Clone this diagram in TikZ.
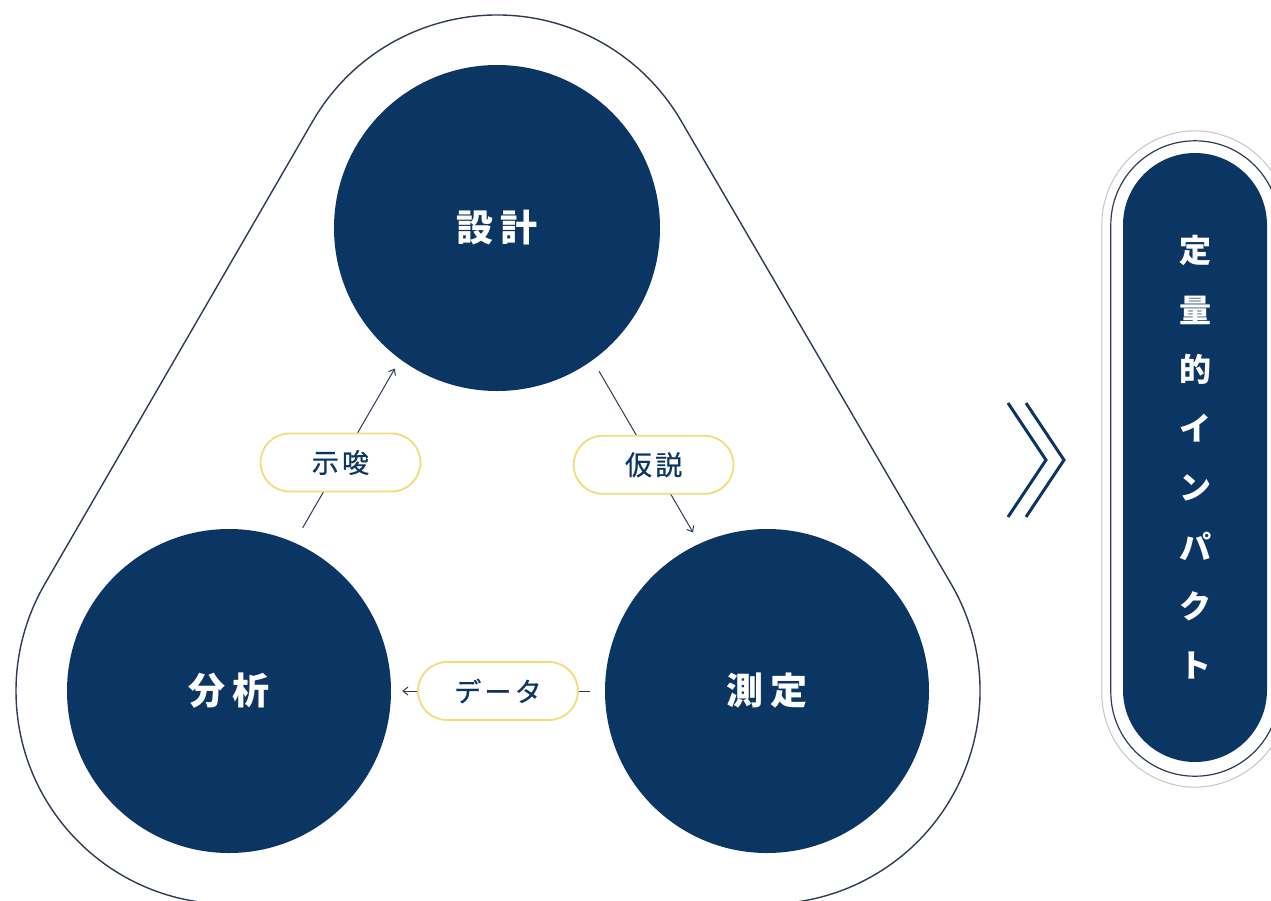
\documentclass[tikz,border=0pt]{standalone}
\usepackage{fontspec}
\setmainfont{Noto Sans CJK JP}
\newfontfamily\tagfont[LetterSpace=12,FakeBold=0.6]{Noto Sans CJK JP}
\usepackage{tikz}
\usetikzlibrary{arrows.meta,calc,positioning}
\definecolor{navy}{HTML}{0B3663}
\definecolor{gold}{HTML}{F2DC7C}
\definecolor{rim}{HTML}{2E3B52}
\tikzset{
    x=1pt, y=1pt,
    stage/.style ={circle, fill=navy, minimum size=326pt, inner sep=0pt, text=white, font=\fontsize{37}{40}\selectfont\bfseries},
    tag/.style = {rectangle, rounded corners=29pt, draw=gold, line width=1.8pt, fill=white, minimum width=160pt, minimum height=58pt, inner sep=0pt, text=navy, font=\fontsize{27}{30}\tagfont},
    flow/.style = {-{Straight Barb[length=5pt,width=8pt]}, draw=rim, line width=1pt},
    hull/.style = {draw=rim, line width=1.4pt},
    pill/.style = {rectangle, rounded corners=72pt, fill=navy, minimum width=144pt, minimum height=609pt, inner sep=0pt, text=white, align=center, font=\fontsize{32}{59.3}\selectfont\bfseries}
}
\begin{document}
\begin{tikzpicture}
    \useasboundingbox (0,0) rectangle (1271,-900);
    \fill[white] (0,0) rectangle (1271,-900);

    \node[stage] (design) at (497,-228) {設\hspace{7pt}計};
    \node[stage, minimum size=324pt] (analysis) at (229,-691) {分\hspace{7pt}析};
    \node[stage, minimum size=324pt] (measure) at (767,-691) {測\hspace{7pt}定};

    % outline round the three stages
    \draw[hull] ($(analysis)+(150:213)$) -- ($(design)+(150:213)$)
        arc[start angle=150, end angle=30, radius=213]
        -- ($(measure)+(30:213)$)
        arc[start angle=30, end angle=-90, radius=213]
        -- ($(analysis)+(-90:213)$)
        arc[start angle=270, end angle=150, radius=213] -- cycle;

    \draw[flow] ($(analysis)!0.333!(design)!18pt!90:(design)$) -- node[tag, pos=0.41] (hint) {示唆} ($(analysis)!0.677!(design)!18pt!90:(design)$);
    \draw[flow] ($(design)!0.327!(measure)!16pt!90:(measure)$) -- node[tag, pos=0.58] (hypo) {仮説} ($(design)!0.675!(measure)!16pt!90:(measure)$);
    \draw[flow] ($(measure)!0.329!(analysis)$) -- node[tag, pos=0.49] (data) {データ} ($(measure)!0.678!(analysis)$);

    % result
    \node[pill] (impact) at (1195,-457.5) {定\\量\\的\\イ\\ン\\パ\\ク\\ト};
    \draw[rim, line width=1.2pt, rounded corners=84pt] ([shift={(-12,12)}]impact.north west) rectangle ([shift={(12,-14)}]impact.south east);
    \draw[gray!45, line width=1pt, rounded corners=94pt] ([shift={(-21,22)}]impact.north west) rectangle ([shift={(21,-25)}]impact.south east);

    \draw[navy, line width=3pt] (1008,-403) -- (1046,-460) -- (1008,-517);
    \draw[navy, line width=3pt] (1026,-403) -- (1064,-460) -- (1026,-517);
\end{tikzpicture}
\end{document}
